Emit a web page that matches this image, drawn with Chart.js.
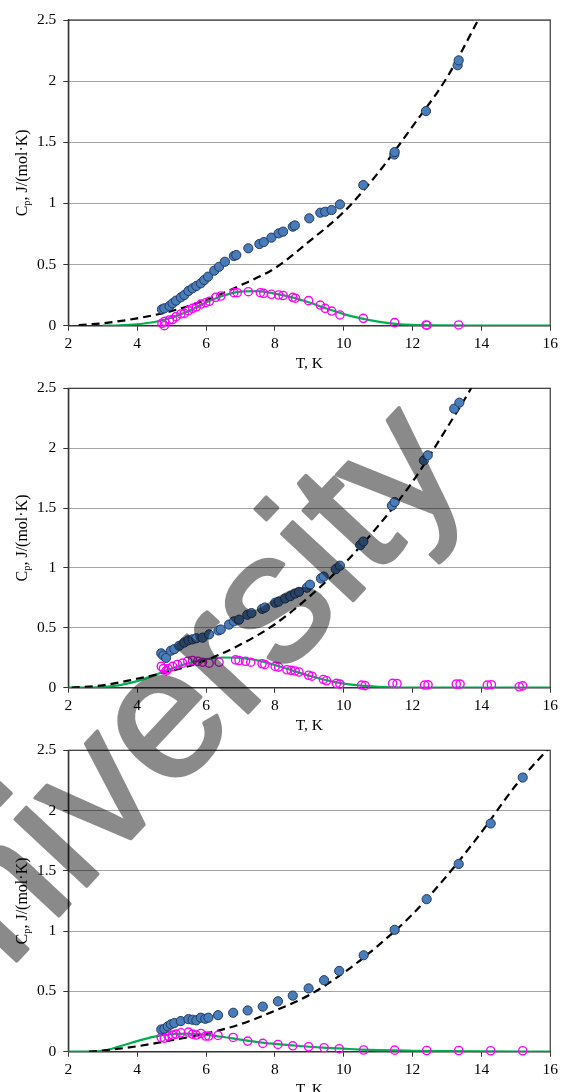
<!DOCTYPE html>
<html><head><meta charset="utf-8">
<script src="https://cdn.jsdelivr.net/npm/chart.js@4.4.1/dist/chart.umd.min.js"></script>
<style>
html,body{margin:0;padding:0;background:#fff;}
#wrap{position:relative;width:562px;height:1092px;overflow:hidden;background:#fff;}
canvas{position:absolute;left:0;}
#wm{position:absolute;left:0;top:0;pointer-events:none;}
</style></head><body>
<div id="wrap">
<canvas id="c1" style="top:0px;width:562px;height:372px" width="562" height="372"></canvas>
<canvas id="c2" style="top:372px;width:562px;height:362px" width="562" height="362"></canvas>
<canvas id="c3" style="top:734px;width:562px;height:358px" width="562" height="358"></canvas>
<svg id="wm" width="562" height="1092"><g opacity="0.46"><text transform="translate(-83,1068) rotate(-47)" font-family="Liberation Sans, Arial, sans-serif" font-size="185" fill="#000" stroke="#000" stroke-width="3.5" stroke-linejoin="round">University</text></g></svg>
</div>
<script>
// ---- tick labels & titles ----
const xTickValues = [2, 4, 6, 8, 10, 12, 14, 16];
const xTickLabels = ['2', '4', '6', '8', '10', '12', '14', '16'];
const yTickValues = [0, 0.5, 1, 1.5, 2, 2.5];
const yTickLabels = ['0', '0.5', '1', '1.5', '2', '2.5'];
const xTitle = 'T, K';
const yTitleMain = 'C';
const yTitleSub = 'p';
const yTitleRest = ', J/(mol\u00B7K)';

// ---- panel 1 ----
const p1Cp = [[4.72,0.134],[4.79,0.142],[4.94,0.161],[5.03,0.183],[5.13,0.205],[5.27,0.232],[5.37,0.251],[5.49,0.284],[5.61,0.306],[5.72,0.325],[5.85,0.347],[5.95,0.374],[6.06,0.401],[6.24,0.45],[6.38,0.482],[6.55,0.523],[6.81,0.57],[6.88,0.578],[7.23,0.633],[7.55,0.668],[7.68,0.684],[7.9,0.72],[8.11,0.755],[8.24,0.769],[8.52,0.81],[8.58,0.82],[9.0,0.878],[9.32,0.924],[9.46,0.932],[9.65,0.946],[9.89,0.992],[10.57,1.15],[11.47,1.40],[11.48,1.42],[12.39,1.755],[13.31,2.13],[13.34,2.17]];
const p1Excess = [[4.72,0.02],[4.79,0.0],[4.8,0.035],[4.94,0.047],[5.03,0.05],[5.13,0.074],[5.27,0.096],[5.37,0.1],[5.49,0.123],[5.61,0.142],[5.72,0.155],[5.85,0.177],[5.99,0.188],[6.1,0.2],[6.28,0.232],[6.43,0.243],[6.81,0.27],[6.91,0.27],[7.23,0.278],[7.58,0.27],[7.68,0.265],[7.9,0.257],[8.11,0.251],[8.24,0.247],[8.52,0.232],[8.6,0.225],[8.98,0.205],[9.32,0.169],[9.46,0.142],[9.65,0.12],[9.89,0.088],[10.57,0.06],[11.48,0.025],[12.39,0.006],[12.42,0.004],[13.34,0.006]];
const p1Lattice = [[2.3,0.005],[3,0.02],[4,0.06],[5,0.12],[6,0.21],[7,0.33],[8,0.47],[9,0.69],[10,0.93],[11,1.25],[12,1.63],[13,2.03],[14,2.55]];
const p1Fit = [[3,0],[3.5,0.003],[4,0.012],[4.5,0.03],[5,0.065],[5.5,0.12],[6,0.19],[6.5,0.245],[7,0.278],[7.5,0.282],[8,0.262],[8.5,0.232],[9,0.19],[9.5,0.14],[10,0.095],[10.5,0.06],[11,0.033],[11.5,0.015],[12,0.006],[13,0.002],[14,0.001],[16,0]];

// ---- panel 2 ----
const p2Cp = [[4.7,0.287],[4.76,0.268],[4.84,0.249],[4.98,0.309],[5.08,0.322],[5.22,0.35],[5.37,0.377],[5.49,0.396],[5.61,0.404],[5.72,0.413],[5.9,0.418],[6.09,0.445],[6.36,0.478],[6.43,0.486],[6.67,0.527],[6.81,0.554],[6.96,0.568],[7.2,0.609],[7.32,0.623],[7.63,0.658],[7.71,0.669],[8.01,0.71],[8.11,0.719],[8.3,0.745],[8.45,0.764],[8.59,0.786],[8.7,0.8],[8.93,0.835],[9.02,0.86],[9.34,0.912],[9.42,0.928],[9.77,0.99],[9.89,1.019],[10.48,1.19],[10.57,1.22],[11.4,1.52],[11.48,1.55],[12.33,1.898],[12.44,1.94],[13.21,2.33],[13.36,2.38]];
const p2Excess = [[4.7,0.178],[4.76,0.16],[4.84,0.14],[4.9,0.16],[5.03,0.178],[5.17,0.194],[5.32,0.205],[5.47,0.221],[5.61,0.227],[5.76,0.221],[5.9,0.213],[6.09,0.205],[6.38,0.213],[6.86,0.232],[6.96,0.227],[7.15,0.221],[7.3,0.213],[7.63,0.2],[7.71,0.194],[8.01,0.178],[8.11,0.172],[8.35,0.15],[8.47,0.145],[8.59,0.14],[8.7,0.131],[8.98,0.104],[9.08,0.096],[9.41,0.069],[9.5,0.058],[9.79,0.036],[9.89,0.03],[10.52,0.022],[10.62,0.017],[11.42,0.036],[11.55,0.034],[12.35,0.022],[12.45,0.024],[13.27,0.03],[13.38,0.03],[14.17,0.022],[14.29,0.025],[15.1,0.008],[15.2,0.015]];
const p2Lattice = [[2.1,0],[3,0.02],[4,0.075],[5,0.14],[6,0.23],[7,0.36],[8,0.53],[9,0.76],[10,1.03],[11,1.35],[12,1.72],[13,2.17],[13.7,2.5],[14,2.66]];
const p2Fit = [[2,0],[2.5,0.001],[3,0.006],[3.5,0.022],[4,0.055],[4.5,0.105],[5,0.16],[5.5,0.205],[6,0.238],[6.5,0.252],[7,0.248],[7.5,0.228],[8,0.19],[8.5,0.145],[9,0.1],[9.5,0.062],[10,0.034],[10.5,0.017],[11,0.008],[11.5,0.003],[12,0.001],[13,0],[16,0]];

// ---- panel 3 ----
const p3Cp = [[4.7,0.184],[4.79,0.19],[4.89,0.21],[4.98,0.227],[5.08,0.238],[5.27,0.254],[5.49,0.27],[5.61,0.265],[5.72,0.26],[5.85,0.282],[5.98,0.273],[6.07,0.282],[6.35,0.303],[6.79,0.323],[7.21,0.342],[7.65,0.374],[8.09,0.418],[8.52,0.465],[8.98,0.525],[9.43,0.593],[9.87,0.67],[10.58,0.80],[11.48,1.011],[12.41,1.265],[13.34,1.557],[14.27,1.893],[15.2,2.274]];
const p3Excess = [[4.7,0.118],[4.79,0.112],[4.9,0.13],[5.03,0.138],[5.13,0.146],[5.27,0.157],[5.49,0.162],[5.61,0.146],[5.72,0.138],[5.85,0.151],[5.99,0.13],[6.08,0.13],[6.35,0.135],[6.79,0.118],[7.21,0.088],[7.65,0.069],[8.09,0.06],[8.52,0.049],[8.98,0.041],[9.43,0.033],[9.87,0.025],[10.58,0.014],[11.48,0.013],[12.41,0.01],[13.34,0.01],[14.27,0.008],[15.2,0.008]];
const p3Lattice = [[2.6,0],[3,0.01],[4,0.045],[5,0.095],[6,0.15],[7,0.228],[8,0.34],[9,0.47],[10,0.655],[11,0.88],[12,1.14],[13,1.46],[14,1.82],[15,2.21],[16,2.53]];
const p3Fit = [[2,0],[2.5,0.001],[3,0.007],[3.5,0.045],[4,0.088],[4.5,0.125],[5,0.145],[5.5,0.15],[6,0.14],[6.5,0.122],[7,0.1],[7.5,0.08],[8,0.065],[8.5,0.052],[9,0.041],[9.5,0.032],[10,0.025],[10.5,0.018],[11,0.013],[12,0.008],[13,0.005],[14,0.003],[16,0.001]];

const SERIF = '"Liberation Serif", "Times New Roman", serif';

const frame = {
  id: 'frame',
  beforeDatasetsDraw(chart) {
    const {ctx, chartArea: a} = chart;
    ctx.save();
    ctx.strokeStyle = '#3a3a3a';
    ctx.lineWidth = 1.2;
    ctx.strokeRect(a.left, a.top, a.right - a.left, a.bottom - a.top);
    ctx.restore();
  }
};

const axisTitles = {
  id: 'axisTitles',
  afterDraw(chart) {
    const {ctx, chartArea: a} = chart;
    ctx.save();
    ctx.fillStyle = '#000';
    ctx.font = '15.5px ' + SERIF;
    ctx.textAlign = 'center';
    ctx.textBaseline = 'middle';
    ctx.fillText(xTitle, (a.left + a.right) / 2, a.bottom + 38);
    ctx.translate(21.5, (a.top + a.bottom) / 2);
    ctx.rotate(-Math.PI / 2);
    const big = '16px ' + SERIF, small = '10.5px ' + SERIF;
    ctx.font = big;
    const w1 = ctx.measureText(yTitleMain).width;
    const w3 = ctx.measureText(yTitleRest).width;
    ctx.font = small;
    const w2 = ctx.measureText(yTitleSub).width;
    let x = -(w1 + w2 + w3) / 2;
    ctx.textAlign = 'left';
    ctx.textBaseline = 'alphabetic';
    ctx.font = big; ctx.fillText(yTitleMain, x, 5.5); x += w1;
    ctx.font = small; ctx.fillText(yTitleSub, x, 8.5); x += w2;
    ctx.font = big; ctx.fillText(yTitleRest, x, 5.5);
    ctx.restore();
  }
};

const pts = arr => arr.map(([x, y]) => ({x, y}));

function makeChart(id, cp, excess, lattice, fit, padTop, xHeight) {
  new Chart(document.getElementById(id), {
    type: 'scatter',
    data: {
      datasets: [
        {data: pts(cp), showLine: false, pointRadius: 4.6, pointBackgroundColor: '#4a7cba',
         pointBorderColor: '#1f3b63', pointBorderWidth: 1, order: 0, clip: false},
        {data: pts(excess), showLine: false, pointRadius: 4.1, pointBackgroundColor: 'rgba(0,0,0,0)',
         pointBorderColor: '#ff00ff', pointBorderWidth: 1.4, order: 1, clip: false},
        {data: pts(lattice), showLine: true, pointRadius: 0, borderColor: '#000', borderWidth: 2.2,
         borderDash: [8, 5], cubicInterpolationMode: 'monotone', fill: false, order: 2},
        {data: pts(fit), showLine: true, pointRadius: 0, borderColor: '#00b050', borderWidth: 2.2,
         cubicInterpolationMode: 'monotone', fill: false, order: 3}
      ]
    },
    options: {
      responsive: false, animation: false, events: [],
      layout: {padding: {top: padTop, right: 9.3, left: 0, bottom: 0}},
      plugins: {legend: {display: false}, tooltip: {enabled: false}},
      scales: {
        x: {
          type: 'linear', min: 2, max: 16,
          afterFit(s) { s.height = xHeight; },
          afterBuildTicks(s) { s.ticks = xTickValues.map(v => ({value: v})); },
          ticks: {callback: (v, i) => xTickLabels[i], font: {family: SERIF, size: 15.5}, color: '#000',
                  padding: 4, maxRotation: 0, autoSkip: false},
          grid: {drawOnChartArea: false, drawTicks: true, tickLength: 5, tickColor: '#333'},
          border: {color: '#000', width: 1.3}
        },
        y: {
          type: 'linear', min: 0, max: 2.5,
          afterFit(s) { s.width = 68.3; },
          afterBuildTicks(s) { s.ticks = yTickValues.map(v => ({value: v})); },
          ticks: {callback: (v, i) => yTickLabels[i], font: {family: SERIF, size: 15.5}, color: '#000',
                  padding: 7, autoSkip: false},
          grid: {color: '#a3a3a3', lineWidth: 1, drawTicks: true, tickLength: 5, tickColor: '#333'},
          border: {color: '#000', width: 1.3}
        }
      }
    },
    plugins: [frame, axisTitles]
  });
}

makeChart('c1', p1Cp, p1Excess, p1Lattice, p1Fit, 20, 46.3);
makeChart('c2', p2Cp, p2Excess, p2Lattice, p2Fit, 10.3, 46.3);
makeChart('c3', p3Cp, p3Excess, p3Lattice, p3Fit, 12.7, 40.3);
</script>
</body></html>
